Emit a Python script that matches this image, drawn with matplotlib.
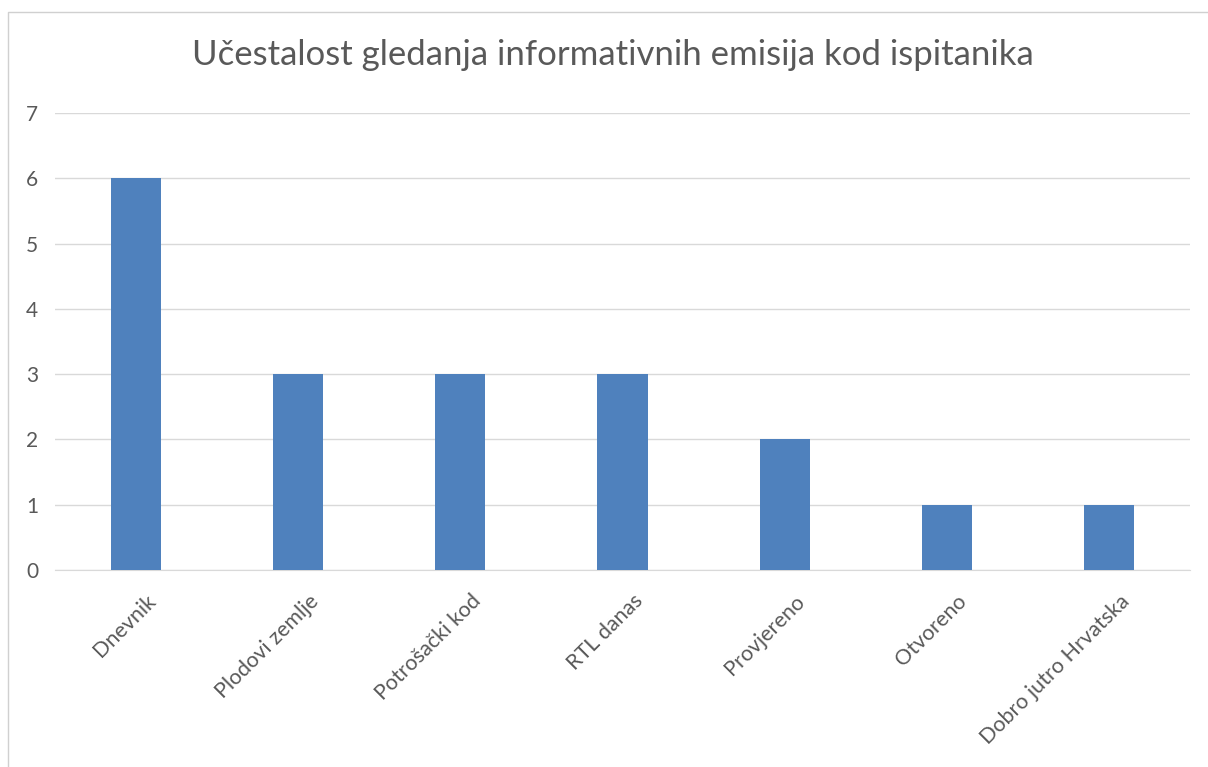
import matplotlib.pyplot as plt
from matplotlib.lines import Line2D
from matplotlib.transforms import ScaledTranslation

# data
categories = ['Dnevnik', 'Plodovi zemlje', 'Potrošački kod', 'RTL danas',
              'Provjereno', 'Otvoreno', 'Dobro jutro Hrvatska']
values = [6, 3, 3, 3, 2, 1, 1]
title = 'Učestalost gledanja informativnih emisija kod ispitanika'

plt.rcParams['font.family'] = ['Lato', 'DejaVu Sans']

W, H = 1208, 767
fig = plt.figure(figsize=(W / 100, H / 100), dpi=100)
ax = fig.add_axes([55 / W, 1 - 570 / H, (1190 - 55) / W, (570 - 113) / H])

x = range(len(categories))
ax.bar(x, values, width=0.31, color='#4f81bd', zorder=3)

ax.set_xlim(-0.5, len(categories) - 0.5)
ax.set_ylim(0, 7)
ax.set_yticks(range(0, 8))
ax.grid(axis='y', color='#d9d9d9', linewidth=1, zorder=0)
ax.set_xticks(list(x))
ax.set_xticklabels(categories, rotation=45, ha='right', rotation_mode='anchor')
ax.tick_params(axis='both', length=0, colors='#595959', labelsize=15.5)
ax.tick_params(axis='x', pad=15)
ax.tick_params(axis='y', pad=12, labelsize=15)
for s in ['top', 'right', 'left']:
    ax.spines[s].set_visible(False)
ax.spines['bottom'].set_color('#d9d9d9')

# nudge category labels a bit to the right
shift = ScaledTranslation(10 / 100, 0, fig.dpi_scale_trans)
for lbl in ax.get_xticklabels():
    lbl.set_transform(lbl.get_transform() + shift)

fig.text(613 / W, 1 - 55 / H, title, ha='center', va='center',
         fontsize=25, color='#595959')

# chart border
fig.add_artist(Line2D([8 / W, 8 / W, 1.0], [0, 1 - 12 / H, 1 - 12 / H],
                      transform=fig.transFigure, color='#d0d0d0', linewidth=1))

plt.savefig('out.png', dpi=100)
